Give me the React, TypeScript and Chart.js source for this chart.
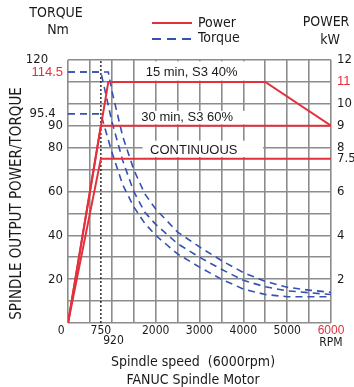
import React, { useEffect, useRef } from 'react';
import { Chart, registerables } from 'chart.js';

Chart.register(...registerables);

// ---------------- data ----------------
const xGridValues = [0, 500, 1000, 1500, 2000, 2500, 3000, 3500, 4000, 4500, 5000, 5500, 6000];
const xTickLabels = [0, 750, 920, 2000, 3000, 4000, 5000, 6000];
const yGridValues = [0, 10, 20, 30, 40, 50, 60, 70, 80, 90, 100, 110, 120];
const torqueTickLabels = [20, 40, 60, 80, 90, 95.4, 114.5, 120];
const powerTickLabels = [2, 4, 6, 7.5, 8, 9, 10, 11, 12];

const power15Rpm = [0, 920, 4500, 6000];
const power15Kw = [0, 11, 11, 9];
const power30Rpm = [0, 750, 6000];
const power30Kw = [0, 9, 9];
const powerContRpm = [0, 750, 6000];
const powerContKw = [0, 7.5, 7.5];

const torque15Rpm = [0, 920, 1000, 1250, 1500, 1750, 2000, 2500, 3000, 3500, 4000, 4500, 5000, 5500, 6000];
const torque15Nm = [114.5, 114.5, 106, 85, 70, 59, 52, 41.5, 34.7, 28.5, 23, 19, 16.3, 15, 14];
const torque30Rpm = [0, 750, 1000, 1250, 1500, 1750, 2000, 2500, 3000, 3500, 4000, 4500, 5000, 5500, 6000];
const torque30Nm = [114.5, 114.5, 92, 74, 60, 50.6, 45, 36.2, 30, 24.5, 19.5, 16.5, 14.7, 13.8, 13];
const torqueContRpm = [0, 750, 1000, 1250, 1500, 1750, 2000, 2500, 3000, 3500, 4000, 4500, 5000, 5500, 6000];
const torqueContNm = [95.4, 95.4, 78, 63, 53, 45.5, 40, 31.5, 25.5, 20, 15.5, 13, 12, 12, 12];

const baseSpeedRpm = [750, 750];
const baseSpeedNm = [0, 120];

// ---------------- style / layout ----------------
const NARROW = "'Liberation Sans Narrow', 'DejaVu Sans Condensed', 'Liberation Sans', sans-serif";
const REGULAR = "'Liberation Sans', Arial, sans-serif";
const RED = '#e2303c';
const BLUE = '#3352b2';
const GRID = '#8c8c8c';
const TEXT = '#1a1a1a';

// spacing used to nudge a few tick labels like the original artwork
const leftLabelPad: Record<string, string> = { '120': '    ', '95.4': '  ' };
const bottomLabelText: Record<string, string> = { '0': '0    ', '920': '   920' };

const boxLabels = [
  { text: '15 min, S3 40%', cx: 2820, cy: 114.3, x0: 1640, x1: 4200, y0: 110.6, y1: 119.4 },
  { text: '30 min, S3 60%', cx: 2720, cy: 93.6, x0: 1640, x1: 4300, y0: 90.6, y1: 96.8 },
  { text: 'CONTINUOUS', cx: 2870, cy: 78.6, x0: 1700, x1: 4450, y0: 75.7, y1: 83.2 },
];

const overlay = {
  id: 'overlay',
  beforeDatasetsDraw(chart: any) {
    const { ctx } = chart;
    const x = chart.scales.x;
    const y = chart.scales.yL;
    ctx.save();
    for (const b of boxLabels) {
      const px0 = x.getPixelForValue(b.x0);
      const px1 = x.getPixelForValue(b.x1);
      const py0 = y.getPixelForValue(b.y1);
      const py1 = y.getPixelForValue(b.y0);
      ctx.fillStyle = '#ffffff';
      ctx.fillRect(px0, py0, px1 - px0, py1 - py0);
      ctx.fillStyle = TEXT;
      ctx.font = `13px ${REGULAR}`;
      ctx.textAlign = 'center';
      ctx.textBaseline = 'middle';
      ctx.fillText(b.text, x.getPixelForValue(b.cx), y.getPixelForValue(b.cy));
    }
    ctx.restore();
  },
  afterDraw(chart: any) {
    const { ctx } = chart;
    const x = chart.scales.x;
    ctx.save();
    ctx.fillStyle = TEXT;
    ctx.textAlign = 'center';
    ctx.textBaseline = 'middle';
    ctx.font = `14px ${NARROW}`;
    ctx.fillText('TORQUE', 56, 13);
    ctx.fillText('Nm', 58, 30);
    ctx.fillText('POWER', 326, 22);
    ctx.fillText('kW', 330, 40);
    ctx.fillText('Spindle speed  (6000rpm)', 193, 362);
    ctx.fillText('FANUC Spindle Motor', 193, 380);
    ctx.font = `12px ${NARROW}`;
    ctx.fillText('RPM', x.getPixelForValue(6000), 343);
    // y title
    ctx.save();
    ctx.translate(17.5, 203.5);
    ctx.rotate(-Math.PI / 2);
    ctx.font = `15px ${NARROW}`;
    ctx.fillText('SPINDLE OUTPUT POWER/TORQUE', 0, 0);
    ctx.restore();
    // legend
    ctx.strokeStyle = RED;
    ctx.lineWidth = 2;
    ctx.beginPath();
    ctx.moveTo(152, 23);
    ctx.lineTo(192, 23);
    ctx.stroke();
    ctx.strokeStyle = BLUE;
    ctx.lineWidth = 1.8;
    ctx.setLineDash([9, 6]);
    ctx.beginPath();
    ctx.moveTo(152, 39);
    ctx.lineTo(192, 39);
    ctx.stroke();
    ctx.setLineDash([]);
    ctx.textAlign = 'left';
    ctx.font = `14px ${NARROW}`;
    ctx.fillText('Power', 198, 23);
    ctx.fillText('Torque', 198, 38);
    ctx.restore();
  },
};

const pts = (xs: number[], ys: number[]) => xs.map((v, i) => ({ x: v, y: ys[i] }));
const uniq = (a: number[]) => Array.from(new Set(a)).sort((p, q) => p - q);

export default function App() {
  const ref = useRef<HTMLCanvasElement>(null);
  useEffect(() => {
    document.body.style.margin = '0';
    const canvas = ref.current!;
    const redLine = { borderColor: RED, borderWidth: 2, pointRadius: 0, yAxisID: 'yR', tension: 0, fill: false };
    const blueLine = { borderColor: BLUE, borderWidth: 1.6, borderDash: [7, 5], pointRadius: 0, yAxisID: 'yL', tension: 0, fill: false };
    const chart = new Chart(canvas, {
      type: 'line',
      data: {
        datasets: [
          { label: 'Power 15 min', data: pts(power15Rpm, power15Kw), ...redLine },
          { label: 'Power 30 min', data: pts(power30Rpm, power30Kw), ...redLine },
          { label: 'Power continuous', data: pts(powerContRpm, powerContKw), ...redLine },
          { label: 'Torque 15 min', data: pts(torque15Rpm, torque15Nm), ...blueLine },
          { label: 'Torque 30 min', data: pts(torque30Rpm, torque30Nm), ...blueLine },
          { label: 'Torque continuous', data: pts(torqueContRpm, torqueContNm), ...blueLine },
          {
            label: 'base', data: pts(baseSpeedRpm, baseSpeedNm), borderColor: '#111', borderWidth: 1.3,
            borderDash: [2, 2], pointRadius: 0, yAxisID: 'yL', tension: 0, fill: false,
          },
        ] as any,
      },
      options: {
        responsive: false,
        animation: false,
        devicePixelRatio: 1,
        events: [],
        layout: { padding: { top: 60, left: 0, right: 0, bottom: 0 } },
        plugins: { legend: { display: false }, tooltip: { enabled: false } },
        scales: {
          x: {
            type: 'linear',
            min: 0,
            max: 6000,
            afterBuildTicks: (s: any) => {
              s.ticks = uniq([...xGridValues, ...xTickLabels]).map((v) => ({ value: v }));
            },
            afterFit: (s: any) => { s.height = 64; },
            border: { display: false },
            grid: {
              color: (c: any) => (c.tick && xGridValues.includes(c.tick.value) ? GRID : 'rgba(0,0,0,0)'),
              lineWidth: 1.6,
              drawTicks: false,
            },
            ticks: {
              autoSkip: false,
              maxRotation: 0,
              padding: 3,
              color: (c: any) => (c.tick && c.tick.value === 6000 ? RED : TEXT),
              font: (c: any) => (c.tick && c.tick.value === 6000
                ? { family: REGULAR, size: 12, lineHeight: 0.85 }
                : { family: NARROW, size: 12, lineHeight: 0.85 }),
              callback: (v: any) => {
                if (!xTickLabels.includes(v)) return '';
                const t = bottomLabelText[String(v)] ?? String(v);
                if (v === 920) return ['', t];
                return t;
              },
            },
          },
          yL: {
            type: 'linear',
            position: 'left',
            min: 0,
            max: 120,
            afterBuildTicks: (s: any) => {
              s.ticks = uniq([...yGridValues, ...torqueTickLabels]).map((v) => ({ value: v }));
            },
            afterFit: (s: any) => { s.width = 68; },
            border: { display: false },
            grid: {
              color: (c: any) => (c.tick && yGridValues.includes(c.tick.value) ? GRID : 'rgba(0,0,0,0)'),
              lineWidth: 1.6,
              drawTicks: false,
            },
            ticks: {
              autoSkip: false,
              padding: 5,
              color: (c: any) => (c.tick && c.tick.value === 114.5 ? RED : TEXT),
              font: (c: any) => (c.tick && c.tick.value === 114.5
                ? { family: REGULAR, size: 13 }
                : { family: NARROW, size: 13 }),
              callback: (v: any) => (torqueTickLabels.includes(v) ? String(v) + (leftLabelPad[String(v)] ?? '') : ''),
            },
          },
          yR: {
            type: 'linear',
            position: 'right',
            min: 0,
            max: 12,
            afterBuildTicks: (s: any) => {
              s.ticks = powerTickLabels.map((v) => ({ value: v }));
            },
            afterFit: (s: any) => { s.width = 23; },
            border: { display: false },
            grid: { display: false, drawTicks: false },
            ticks: {
              autoSkip: false,
              padding: 6,
              color: (c: any) => (c.tick && c.tick.value === 11 ? RED : TEXT),
              font: (c: any) => (c.tick && c.tick.value === 11
                ? { family: REGULAR, size: 13 }
                : { family: NARROW, size: 13 }),
              callback: (v: any) => String(v),
            },
          },
        },
      } as any,
      plugins: [overlay],
    });
    return () => chart.destroy();
  }, []);
  return (
    <div style={{ width: 354, height: 387 }}>
      <canvas ref={ref} width={354} height={387} style={{ display: 'block' }} />
    </div>
  );
}
